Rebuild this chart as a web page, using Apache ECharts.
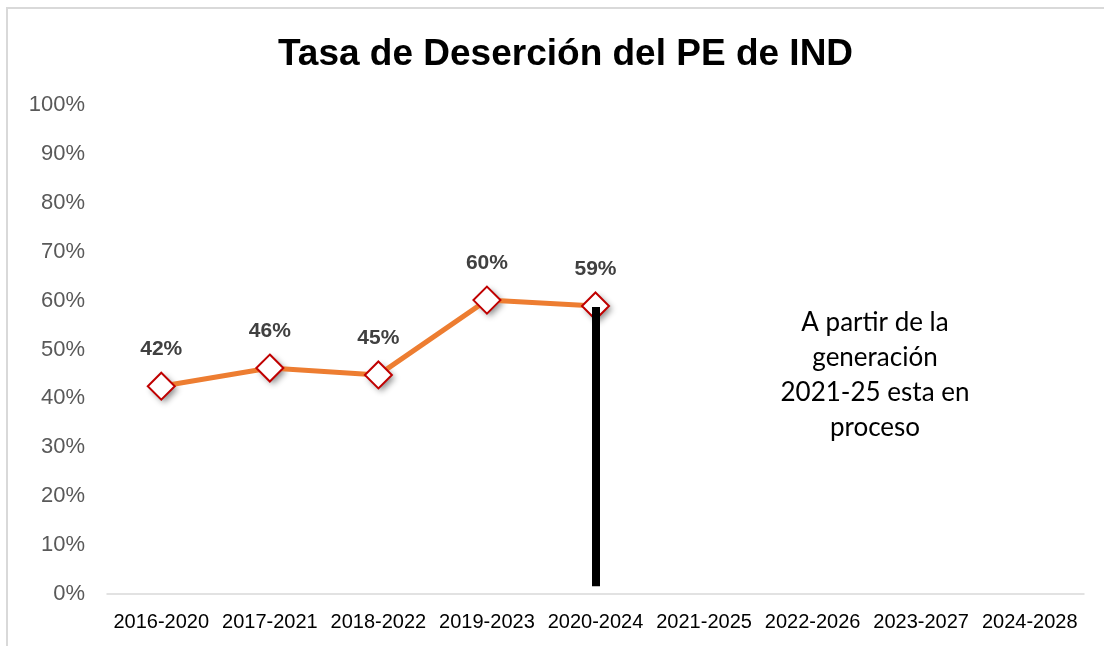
<!DOCTYPE html>
<html>
<head>
<meta charset="utf-8">
<script src="https://cdn.jsdelivr.net/npm/echarts@6/dist/echarts.min.js"></script>
<style>
  html, body { margin: 0; padding: 0; background: #fff; }
  #chart { width: 1104px; height: 646px; }
</style>
</head>
<body>
<div id="chart"></div>
<script>
// generaciones
const categories = ['2016-2020', '2017-2021', '2018-2022', '2019-2023', '2020-2024',
  '2021-2025', '2022-2026', '2023-2027', '2024-2028'];
// tasa de desercion (fraccion)
const desercion = [0.425, 0.462, 0.448, 0.601, 0.589];
const labels = ['42%', '46%', '45%', '60%', '59%'];
// linea de corte en 2020-2024
const corteCategoria = '2020-2024';
const corteDesde = 0.016;
const corteHasta = 0.587;

const myChart = echarts.init(document.getElementById('chart'));

const option = {
  animation: false,
  backgroundColor: '#fff',
  title: {
    text: 'Tasa de Deserción del PE de IND',
    left: 273,
    top: 31,
    textStyle: {
      fontFamily: 'Liberation Sans, Arial, sans-serif',
      fontWeight: 'bold',
      fontSize: 37,
      color: '#000'
    }
  },
  graphic: [
    {
      type: 'rect',
      shape: { x: 7, y: 8, width: 1120, height: 660 },
      style: { fill: 'none', stroke: '#d9d9d9', lineWidth: 2 },
      silent: true
    },
    {
      type: 'text',
      x: 875,
      y: 305,
      style: {
        text: 'A partir de la\ngeneración\n2021-25 esta en\nproceso',
        align: 'center',
        verticalAlign: 'top',
        font: '26px Lato, "Open Sans", sans-serif',
        lineHeight: 35,
        fill: '#000'
      }
    }
  ],
  grid: {
    left: 107,
    right: 20,
    top: 105,
    bottom: 52
  },
  xAxis: {
    type: 'category',
    data: categories,
    boundaryGap: true,
    axisLine: { show: true, lineStyle: { color: '#d9d9d9', width: 1.5 } },
    axisTick: { show: false },
    axisLabel: {
      interval: 0,
      margin: 18,
      fontSize: 20,
      color: '#000',
      fontFamily: '"Liberation Sans Narrow", "Liberation Sans", sans-serif'
    }
  },
  yAxis: {
    type: 'value',
    min: 0,
    max: 1,
    interval: 0.1,
    splitLine: { show: false },
    axisLine: { show: false },
    axisTick: { show: false },
    axisLabel: {
      margin: 22,
      fontSize: 22,
      color: '#595959',
      fontFamily: '"Liberation Sans", Arial, sans-serif',
      formatter: v => Math.round(v * 100) + '%'
    }
  },
  series: [
    {
      // sombra de los marcadores
      type: 'line',
      data: desercion,
      z: 2,
      silent: true,
      symbol: 'diamond',
      symbolSize: 27,
      lineStyle: { width: 0, opacity: 0 },
      itemStyle: {
        color: '#ffffff',
        borderWidth: 0,
        shadowColor: 'rgba(0,0,0,0.45)',
        shadowBlur: 6,
        shadowOffsetX: 3,
        shadowOffsetY: 3
      }
    },
    {
      type: 'line',
      data: desercion,
      z: 3,
      symbol: 'diamond',
      symbolSize: 27,
      lineStyle: { color: '#ed7d31', width: 5 },
      itemStyle: {
        color: '#ffffff',
        borderColor: '#c00000',
        borderWidth: 2
      },
      label: {
        show: true,
        position: 'top',
        distance: 12,
        formatter: p => labels[p.dataIndex],
        fontSize: 21,
        fontWeight: 'bold',
        color: '#404040',
        fontFamily: '"Liberation Sans Narrow", "Liberation Sans", sans-serif'
      },
      markLine: {
        silent: true,
        symbol: ['none', 'none'],
        label: { show: false },
        lineStyle: { color: '#000', width: 8, type: 'solid' },
        data: [[
          { coord: [corteCategoria, corteDesde] },
          { coord: [corteCategoria, corteHasta] }
        ]]
      }
    }
  ]
};

myChart.setOption(option);
</script>
</body>
</html>
